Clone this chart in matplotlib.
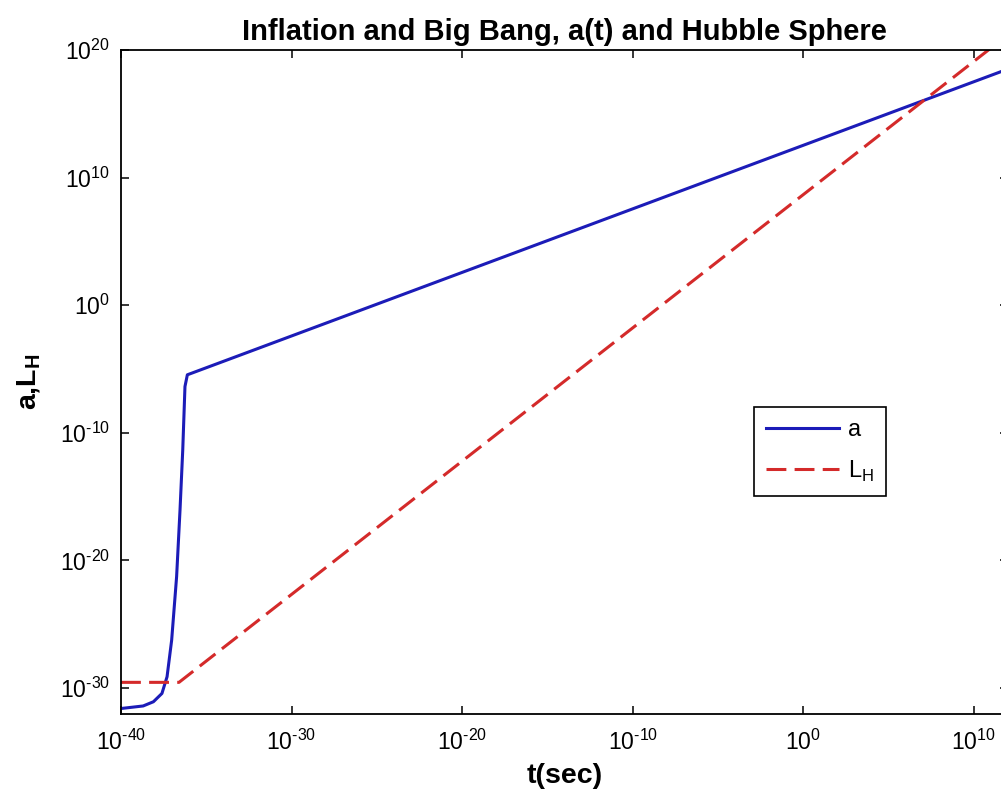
import matplotlib
matplotlib.use('Agg')
import matplotlib.pyplot as plt
from matplotlib.ticker import FixedLocator, FixedFormatter, NullLocator

plt.rcParams['font.family'] = ['Liberation Sans', 'DejaVu Sans']
plt.rcParams['mathtext.fontset'] = 'custom'
plt.rcParams['mathtext.rm'] = 'Liberation Sans'
plt.rcParams['mathtext.bf'] = 'Liberation Sans:bold'

# values, as powers of ten
a_log_t = [-40, -38.7, -38.1, -37.6, -37.3, -37.03, -36.74, -36.54, -36.38, -36.25, -36.11, 12]
a_log_val = [-31.6, -31.4, -31.07, -30.42, -29.11, -26.24, -21.27, -16.04, -11.33, -6.37, -5.45, 18.51]
lh_log_t = [-40, -36.6, 12]
lh_log_val = [-29.55, -29.55, 21.2]

x_ticks = [-40, -30, -20, -10, 0, 10]
y_ticks = [-30, -20, -10, 0, 10, 20]

t_a = [10.0 ** v for v in a_log_t]
a = [10.0 ** v for v in a_log_val]
t_lh = [10.0 ** v for v in lh_log_t]
lh = [10.0 ** v for v in lh_log_val]


def tick_text(p):
    # matlab draws a plain hyphen in the exponent
    return '10$^{\\mathregular{%s}}$' % str(p).replace('-', '\\text{-}')


fig = plt.figure(figsize=(10.01, 7.96), dpi=100)
ax = fig.add_axes([121 / 1001, 82 / 796, 887 / 1001, 664 / 796])

ax.loglog(t_a, a, color='#1c1cb8', linewidth=2.2, label='a')
ax.loglog(t_lh, lh, color='#d42a2a', linewidth=2.2, dashes=(6.5, 2.7), label='L$_\\mathrm{H}$')

ax.set_xlim(1e-40, 1e12)
ax.set_ylim(10.0 ** -32.03, 1e20)

ax.xaxis.set_major_locator(FixedLocator([10.0 ** v for v in x_ticks]))
ax.yaxis.set_major_locator(FixedLocator([10.0 ** v for v in y_ticks]))
ax.xaxis.set_minor_locator(NullLocator())
ax.yaxis.set_minor_locator(NullLocator())
ax.xaxis.set_major_formatter(FixedFormatter([tick_text(v) for v in x_ticks]))
ax.yaxis.set_major_formatter(FixedFormatter([tick_text(v) for v in y_ticks]))
ax.tick_params(which='major', direction='in', top=True, right=True,
               length=5.8, width=1.1, labelsize=16.5, pad=8)
ax.tick_params(axis='x', pad=11)
for s in ax.spines.values():
    s.set_linewidth(1.3)

ax.set_title('Inflation and Big Bang, a(t) and Hubble Sphere',
             fontsize=21, fontweight='bold', pad=7)
ax.set_xlabel('t(sec)', fontsize=20.5, fontweight='bold', labelpad=6)
ax.set_ylabel('a,L$_\\mathbf{H}$', fontsize=20.5, fontweight='bold', labelpad=12)

leg = ax.legend(loc='upper left', bbox_to_anchor=(0.7137, 0.4623), fontsize=17,
                fancybox=False, framealpha=1, edgecolor='black',
                handlelength=3.1, handletextpad=0.4, labelspacing=0.75,
                borderaxespad=0, borderpad=0.5)
leg.get_frame().set_linewidth(1.2)

plt.savefig('out.png', dpi=100)
